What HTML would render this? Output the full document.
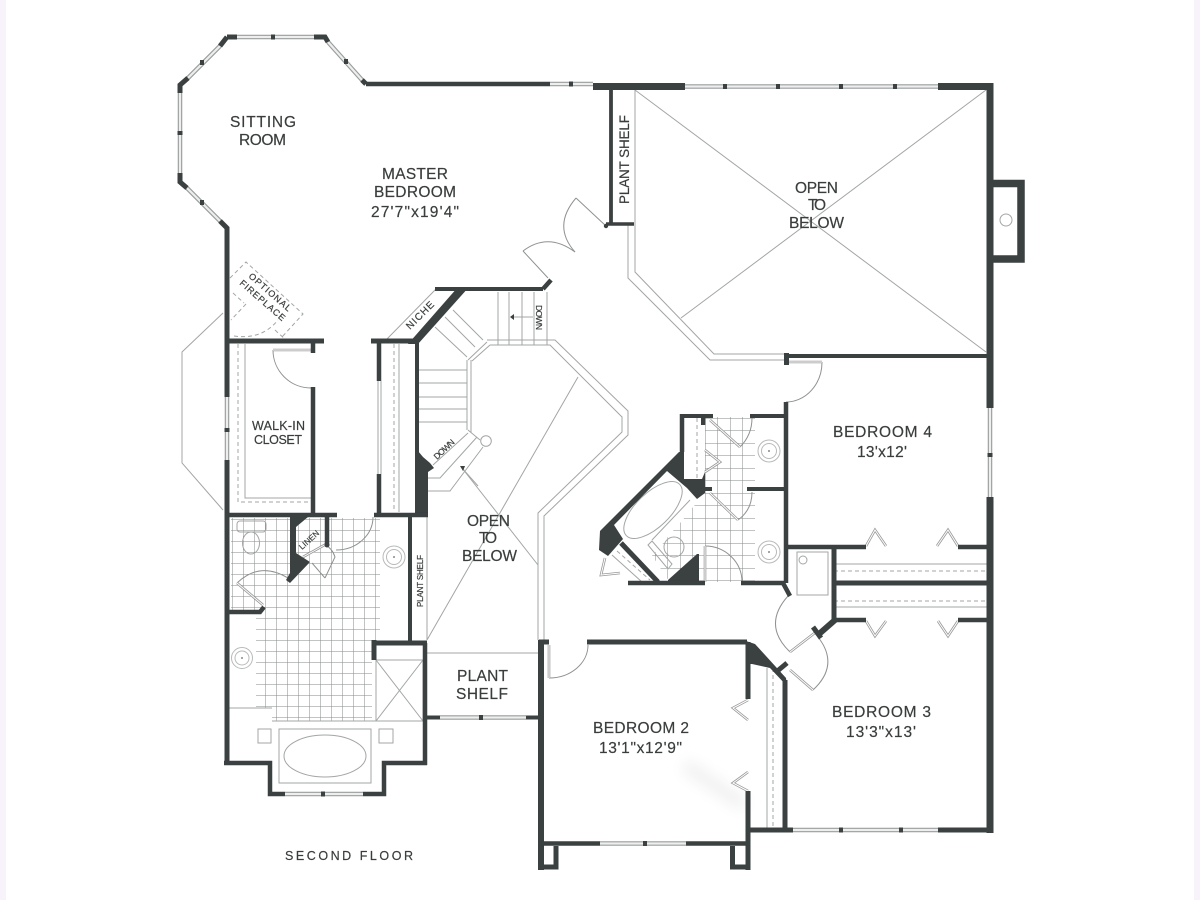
<!DOCTYPE html>
<html><head><meta charset="utf-8"><style>
html,body{margin:0;padding:0;background:#fff}
svg{display:block}
text{font-family:"Liberation Sans",sans-serif;fill:#3a3d3d;stroke:#3a3d3d;stroke-width:.2;text-anchor:start}
.w{stroke:#3b3f40;fill:none;stroke-linecap:butt;stroke-linejoin:miter}
.d{fill:#3b3f40;stroke:none}
.g{stroke:#a3a6a6;fill:none;stroke-width:1}
.l{stroke:#8f9292;fill:none;stroke-width:1}
.da{stroke:#a3a6a6;fill:none;stroke-width:1;stroke-dasharray:4 3}
.wa{stroke:#9a9d9d;stroke-width:4.5;fill:none}
.wb{stroke:#eeeeee;stroke-width:2.2;fill:none}
.da2{stroke:#999;stroke-width:2.6;fill:none}
.db{stroke:#fff;stroke-width:1;fill:none}
.sk{stroke:#b8baba;fill:none;stroke-width:1}
</style></head><body>
<svg xmlns="http://www.w3.org/2000/svg" width="1200" height="900" viewBox="0 0 1200 900">
<defs>
<pattern id="tile" width="11" height="11" patternUnits="userSpaceOnUse" x="232" y="519">
<path d="M0 0H11M0 0V11" stroke="#858888" stroke-width="1" fill="none"/>
</pattern>
<pattern id="tile2" width="12.5" height="12.5" patternUnits="userSpaceOnUse" x="705" y="418">
<path d="M0 0H12.5M0 0V12.5" stroke="#858888" stroke-width="1" fill="none"/>
</pattern>
<filter id="b" x="-50%" y="-50%" width="200%" height="200%"><feGaussianBlur stdDeviation="7"/></filter>
<filter id="s"><feGaussianBlur stdDeviation="0.35"/></filter>
</defs>
<rect width="1200" height="900" fill="#fff"/>
<rect x="0" y="0" width="6" height="900" fill="#f8f3fb"/>
<rect x="1194" y="0" width="6" height="900" fill="#f8f3fb"/>
<line x1="685" y1="765" x2="744" y2="805" stroke="#f1f1f1" stroke-width="14" filter="url(#b)"/>

<g filter="url(#s)">
<!-- tile -->
<path d="M231 518H380V640H372V721H272V708H256V612H231Z" fill="url(#tile)"/>
<path d="M705 417H755V582H670L652 556L695 505L705 490Z" fill="url(#tile2)"/>

<!-- light lines -->
<path class="g" d="M635 90V272L714 354H784M628 224V278L710 360H784"/>
<path class="g" d="M635 90L986 352M986 90L681 318"/>
<path class="g" d="M487 340H555L628 411V435L544 516V640M490 345H550L622 417V432L538 513V640"/>
<path class="g" d="M578 377L427 640M462 468L538 565"/>
<path class="g" d="M427 517V640M427 653H539"/>
<path class="g" d="M468 360L487 342M472 361L490 345M467 360V430M471 360V433M468 430L480 440"/>
<path class="g" d="M498 292V345M509 292V345M522 292V345M534 292V345M547 292V345"/>
<path class="g" d="M453 310L483 340M445 317L475 347M435 327L467 357"/>
<path class="g" d="M419 370H467M419 383H467M419 397H467M419 409H467M419 422H467"/>
<path class="g" d="M468 433L433 465M477 437L440 478H428M483 447L450 491H428"/>
<circle class="g" cx="486" cy="441" r="5.3"/>
<path class="g" d="M512 317H533M462 468L478 486"/>
<path class="d" d="M510 317L514 314V320ZM460 466L465 466L463 471Z"/>
<path class="g" d="M223 313L182 352V463L223 510"/>
<path class="g" d="M386 340L436 289"/>
<path class="g" d="M245 344V498H311M399 344V512M378 381V474M381 381V474"/>
<path class="da" d="M238 344V502H310M394 344V512"/>
<path class="g" d="M834 564H988M834 607H988M767 668V830"/>
<path class="da" d="M834 571H988M834 601H988M773 668V830"/>
<rect class="g" x="797" y="552" width="31" height="43"/>
<circle class="g" cx="803" cy="560" r="4"/>
<circle class="g" cx="1006" cy="220" r="6"/>

<!-- optional fireplace -->
<path class="da" d="M230 278L246 262L303 314L282 337M233 293L244 303M246 304L231 320M275 330L287 341M234 336Q262 340 278 320"/>

<!-- bath master fixtures -->
<rect x="237" y="521" width="29" height="11" rx="3" fill="#fff" class="g"/>
<ellipse cx="251" cy="543" rx="8.5" ry="11" fill="#fff" class="g"/>
<circle cx="394" cy="557" r="11" fill="#fff" class="sk"/><circle cx="394" cy="557" r="7.5" class="sk"/><circle cx="394" cy="557" r="1" fill="#888"/>
<circle cx="242" cy="658" r="10.5" fill="#fff" class="sk"/><circle cx="242" cy="658" r="7" class="sk"/><circle cx="242" cy="658" r="1" fill="#888"/>
<rect class="g" x="279" y="729" width="92" height="54" fill="#fff"/>
<ellipse class="g" cx="325" cy="756" rx="41" ry="21" fill="#fff"/>
<rect class="g" x="258" y="729" width="13" height="14" fill="#fff"/>
<rect class="g" x="379" y="729" width="14" height="14" fill="#fff"/>
<path class="g" d="M227 708H272M376 660H423V721H376ZM376 660L423 721M423 660L376 721" fill="#fff"/>
<path class="g" d="M272 721H424"/>

<!-- second bath fixtures -->
<ellipse class="g" cx="653" cy="510" rx="37" ry="17" transform="rotate(-44 653 510)" fill="#fff"/>
<path class="g" d="M690 500L652 540"/>
<circle class="g" cx="674" cy="547" r="10" fill="#fff"/>
<path class="g" d="M648 545L652 541L672 564L668 569Z" fill="#fff"/>
<path class="g" d="M612 555L642 582"/>
<path class="da" d="M617 551L650 580"/>
<circle class="sk" cx="769" cy="451" r="11" fill="#fff"/><circle class="sk" cx="769" cy="451" r="7.5"/><circle cx="769" cy="451" r="1" fill="#888"/>
<circle class="sk" cx="769" cy="552" r="11" fill="#fff"/><circle class="sk" cx="769" cy="552" r="7.5"/><circle cx="769" cy="552" r="1" fill="#888"/>
<path class="da" d="M697 418V478"/>

<!-- door arcs -->
<path class="l" d="M273 350A38 38 0 0 0 311 388"/>
<path class="l" d="M549 678A39 33 0 0 0 588 645"/>
<path class="l" d="M822 362A36 40 0 0 1 786 402"/>
<path class="l" d="M336 550A37 33 0 0 0 373 517"/>
<path class="l" d="M237 583Q260 561 288 578"/>
<path class="l" d="M740 447Q752 435 752 418M738 520Q752 510 752 492"/>
<path class="l" d="M705 546A37 36 0 0 1 742 582"/>
<path class="l" d="M788 596Q762 625 790 652"/>
<path class="l" d="M813 690Q840 665 818 637"/>
<path class="l" d="M523 251Q548 232 575 252"/>
<path class="l" d="M576 198Q552 226 575 252"/>
<path class="l" d="M548 278L523 251M606 226L576 198"/>
<path class="l" d="M325 578L335 557Q332 548 325 545M312 563L325 578"/>

<!-- double door leaves -->
<path class="da2" d="M273 350H311M549 645V678M789 362H822M705 546V582"/>
<path class="db" d="M273 350H311M549 645V678M789 362H822M705 546V582"/>
<path class="da2" d="M263 605L237 583M816 632L790 652M790 670L813 690M710 420L740 447M710 493L738 520M303 557L328 543"/>
<path class="db" d="M263 605L237 583M816 632L790 652M790 670L813 690M710 420L740 447M710 493L738 520M303 557L328 543"/>
<path class="da2" d="M866 546L875 530L886 546M937 546L948 530L958 546M866 621L875 636L886 621M938 621L948 636L958 621M748 700L733 708L748 720M748 772L733 783L748 791M705 450L720 462L705 472M605 558L601 575L620 573"/>
<path class="db" d="M866 546L875 530L886 546M937 546L948 530L958 546M866 621L875 636L886 621M938 621L948 636L958 621M748 700L733 708L748 720M748 772L733 783L748 791M705 450L720 462L705 472M605 558L601 575L620 573"/>

<!-- windows -->
<path class="wa" d="M237 37H314M328 42L362 80M220 46L188 78M180 93V173M187 188L220 221M550 84H593M685 86.5H938M227 397V460M990 408V497M793 830H938M600 843.5H686M440 717.5H526M285 794H363"/>
<path class="wb" d="M237 37H314M328 42L362 80M220 46L188 78M180 93V173M187 188L220 221M550 84H593M685 86.5H938M227 397V460M990 408V497M793 830H938M600 843.5H686M440 717.5H526M285 794H363"/>
<!-- mullions -->
<g class="d">
<rect x="271" y="34.5" width="4" height="5"/><rect x="344" y="59" width="4" height="5"/><rect x="200" y="60" width="4" height="5"/>
<rect x="177.5" y="131" width="5" height="4"/><rect x="200" y="200" width="4" height="5"/>
<rect x="569" y="81.5" width="4" height="5"/><rect x="723" y="84" width="4" height="5"/><rect x="776" y="84" width="4" height="5"/><rect x="839" y="84" width="4" height="5"/><rect x="893" y="84" width="4" height="5"/>
<rect x="224.5" y="428" width="5" height="4"/><rect x="987.5" y="453" width="5" height="4"/>
<rect x="839" y="827.5" width="4" height="5"/><rect x="899" y="827.5" width="4" height="5"/><rect x="643" y="841" width="4" height="5"/>
<rect x="479" y="715" width="4" height="5"/><rect x="321" y="791.5" width="4" height="5"/>
</g>

<!-- heavy walls -->
<path class="w" stroke-width="5" d="M227 37H237M314 37H325L328 42M227 37L220 46M188 78L180 85V93M180 173V182L187 188M220 221L227 228V397M227 460V765M362 80L366 84"/>
<path class="w" stroke-width="4.5" d="M366 84H550"/>
<path class="w" stroke-width="7" d="M593 86.5H685M938 86.5H990"/>
<path class="w" stroke-width="7" d="M990 83V408M990 497V833"/>
<path class="w" stroke-width="7.5" d="M993 183.5H1021V259H993"/>
<path class="w" stroke-width="3.8" d="M611 90V224"/>
<path class="w" stroke-width="3.5" d="M606 224H634"/>
<circle cx="606" cy="226" r="2.2" fill="#3b3f40"/>
<path class="w" stroke-width="4" d="M784 356H990"/>
<rect class="d" x="784" y="353" width="5" height="12"/>
<path class="w" stroke-width="4.5" d="M786 402V583"/>
<path class="w" stroke-width="4.5" d="M786 547H866M958 547H990M834 620H866M958 620H990"/>
<path class="w" stroke-width="5" d="M834 547V622M834 583H990"/>
<path class="w" stroke-width="6" d="M835 620L819 634"/>
<path class="w" stroke-width="5" d="M813 627L821 638"/>
<path class="w" stroke-width="5" d="M938 830H990M750 830H793M785 680V830"/>
<!-- bedroom 2 -->
<path class="w" stroke-width="5" d="M587 642H747M549 642H539"/>
<path class="w" stroke-width="6" d="M541 640V870"/>
<path class="w" stroke-width="5" d="M748 642V699M748 791V870"/>
<path class="d" d="M746 641L755 644L786 678L787 686L770 668L752 664L746 664Z"/>
<path class="w" stroke-width="5" d="M775 673L787 663"/>
<path class="w" stroke-width="4.5" d="M541 843.5H600M686 843.5H748"/>
<path class="w" stroke-width="5" d="M541 846V867H556V846M732.5 846V867H750"/>
<!-- central walls -->
<path class="w" stroke-width="4" d="M435 289H543"/>
<path class="w" stroke-width="4.5" d="M543 289L551 280" />
<path class="d" d="M458 287H469L418 344L408 344Z"/>
<path class="w" stroke-width="5" d="M371 341H416"/>
<path class="w" stroke-width="4" d="M417 343V455"/>
<path class="d" d="M415 451L418 451L423 457L430 463L434 468L428 472V517H415Z"/>
<path class="w" stroke-width="4.5" d="M379 341V381M379 474V515"/>
<path class="w" stroke-width="5" d="M227 341H324"/>
<path class="w" stroke-width="4.5" d="M313 341V353M313 387V515"/>
<path class="w" stroke-width="4.5" d="M227 515H337M374 515H428"/>
<!-- master bath -->
<path class="d" d="M290 517H308L296 527V553L310 562L290 583L286 580L290 573Z"/>
<path class="w" stroke-width="4.5" d="M327 515V545"/>
<circle cx="327" cy="545" r="2.5" fill="#3b3f40"/>
<path class="w" stroke-width="4.5" d="M227 612H260L264 607"/>
<path class="w" stroke-width="4" d="M410 517V643"/>
<path class="w" stroke-width="5" d="M372 643H427M374 640V660"/>
<path class="w" stroke-width="4.5" d="M425 643V765"/>
<path class="w" stroke-width="4" d="M427 717.5H440M526 717.5H541"/>
<path class="w" stroke-width="4.5" d="M224 763H270V794H285M363 794H384V763H427"/>
<!-- second bath -->
<path class="w" stroke-width="4" d="M680 416H713M750 416H786M747 489H785M705 489H712"/>
<path class="w" stroke-width="4.5" d="M682 414V452"/>
<path class="d" d="M679 452L600 531L599 550L608 556L623 539L614 525L667 471L687 488L697 499L705 493V472L702 479H684V452Z"/>
<rect class="d" x="701" y="418" width="4.5" height="7"/>
<path class="w" stroke-width="5" d="M621 543L658 582"/>
<path class="d" d="M668 580L697 554H699V583H668Z"/>
<path class="w" stroke-width="4.5" d="M628 583H705M741 583H783L790 596"/>
</g>

<!-- labels -->
<g font-size="15.5">
<text x="230" y="127" textLength="66">SITTING</text>
<text x="239" y="145" textLength="47">ROOM</text>
<text x="382" y="179" textLength="66">MASTER</text>
<text x="374" y="197" textLength="82">BEDROOM</text>
<text x="371" y="217" textLength="88">27'7"x19'4"</text>
<text x="795" y="193" textLength="43">OPEN</text>
<text x="808" y="210" textLength="18">TO</text>
<text x="789" y="228" textLength="55">BELOW</text>
<text x="467" y="526" textLength="43">OPEN</text>
<text x="479" y="543" textLength="18">TO</text>
<text x="462" y="561" textLength="55">BELOW</text>
<text x="457" y="681" textLength="51">PLANT</text>
<text x="456" y="699" textLength="52">SHELF</text>
<text x="833" y="437" textLength="99">BEDROOM 4</text>
<text x="857" y="457" textLength="50">13'x12'</text>
<text x="832" y="717" textLength="99">BEDROOM 3</text>
<text x="846" y="737" textLength="70">13'3"x13'</text>
<text x="593" y="733" textLength="96">BEDROOM 2</text>
<text x="599" y="753" textLength="83">13'1"x12'9"</text>
</g>
<text font-size="12.5" x="252" y="430" textLength="53">WALK-IN</text>
<text font-size="12.5" x="254" y="444" textLength="48">CLOSET</text>
<text font-size="12.5" x="285" y="860" textLength="128">SECOND FLOOR</text>
<text font-size="13.5" transform="translate(629 204) rotate(-90)" textLength="89">PLANT SHELF</text>
<text font-size="8" transform="translate(423 607) rotate(-90)" textLength="52">PLANT SHELF</text>
<text font-size="10" transform="translate(410 330) rotate(-45)" textLength="35">NICHE</text>
<text font-size="8.5" transform="translate(536 305) rotate(90)" textLength="25">DOWN</text>
<text font-size="8.5" transform="translate(437 460) rotate(-43)" textLength="25">DOWN</text>
<text font-size="8" transform="translate(302 550) rotate(-42)" textLength="24">LINEN</text>
<text font-size="9" transform="translate(248 277) rotate(41)" textLength="53">OPTIONAL</text>
<text font-size="9" transform="translate(239 284) rotate(41)" textLength="57">FIREPLACE</text>
</svg>
</body></html>
